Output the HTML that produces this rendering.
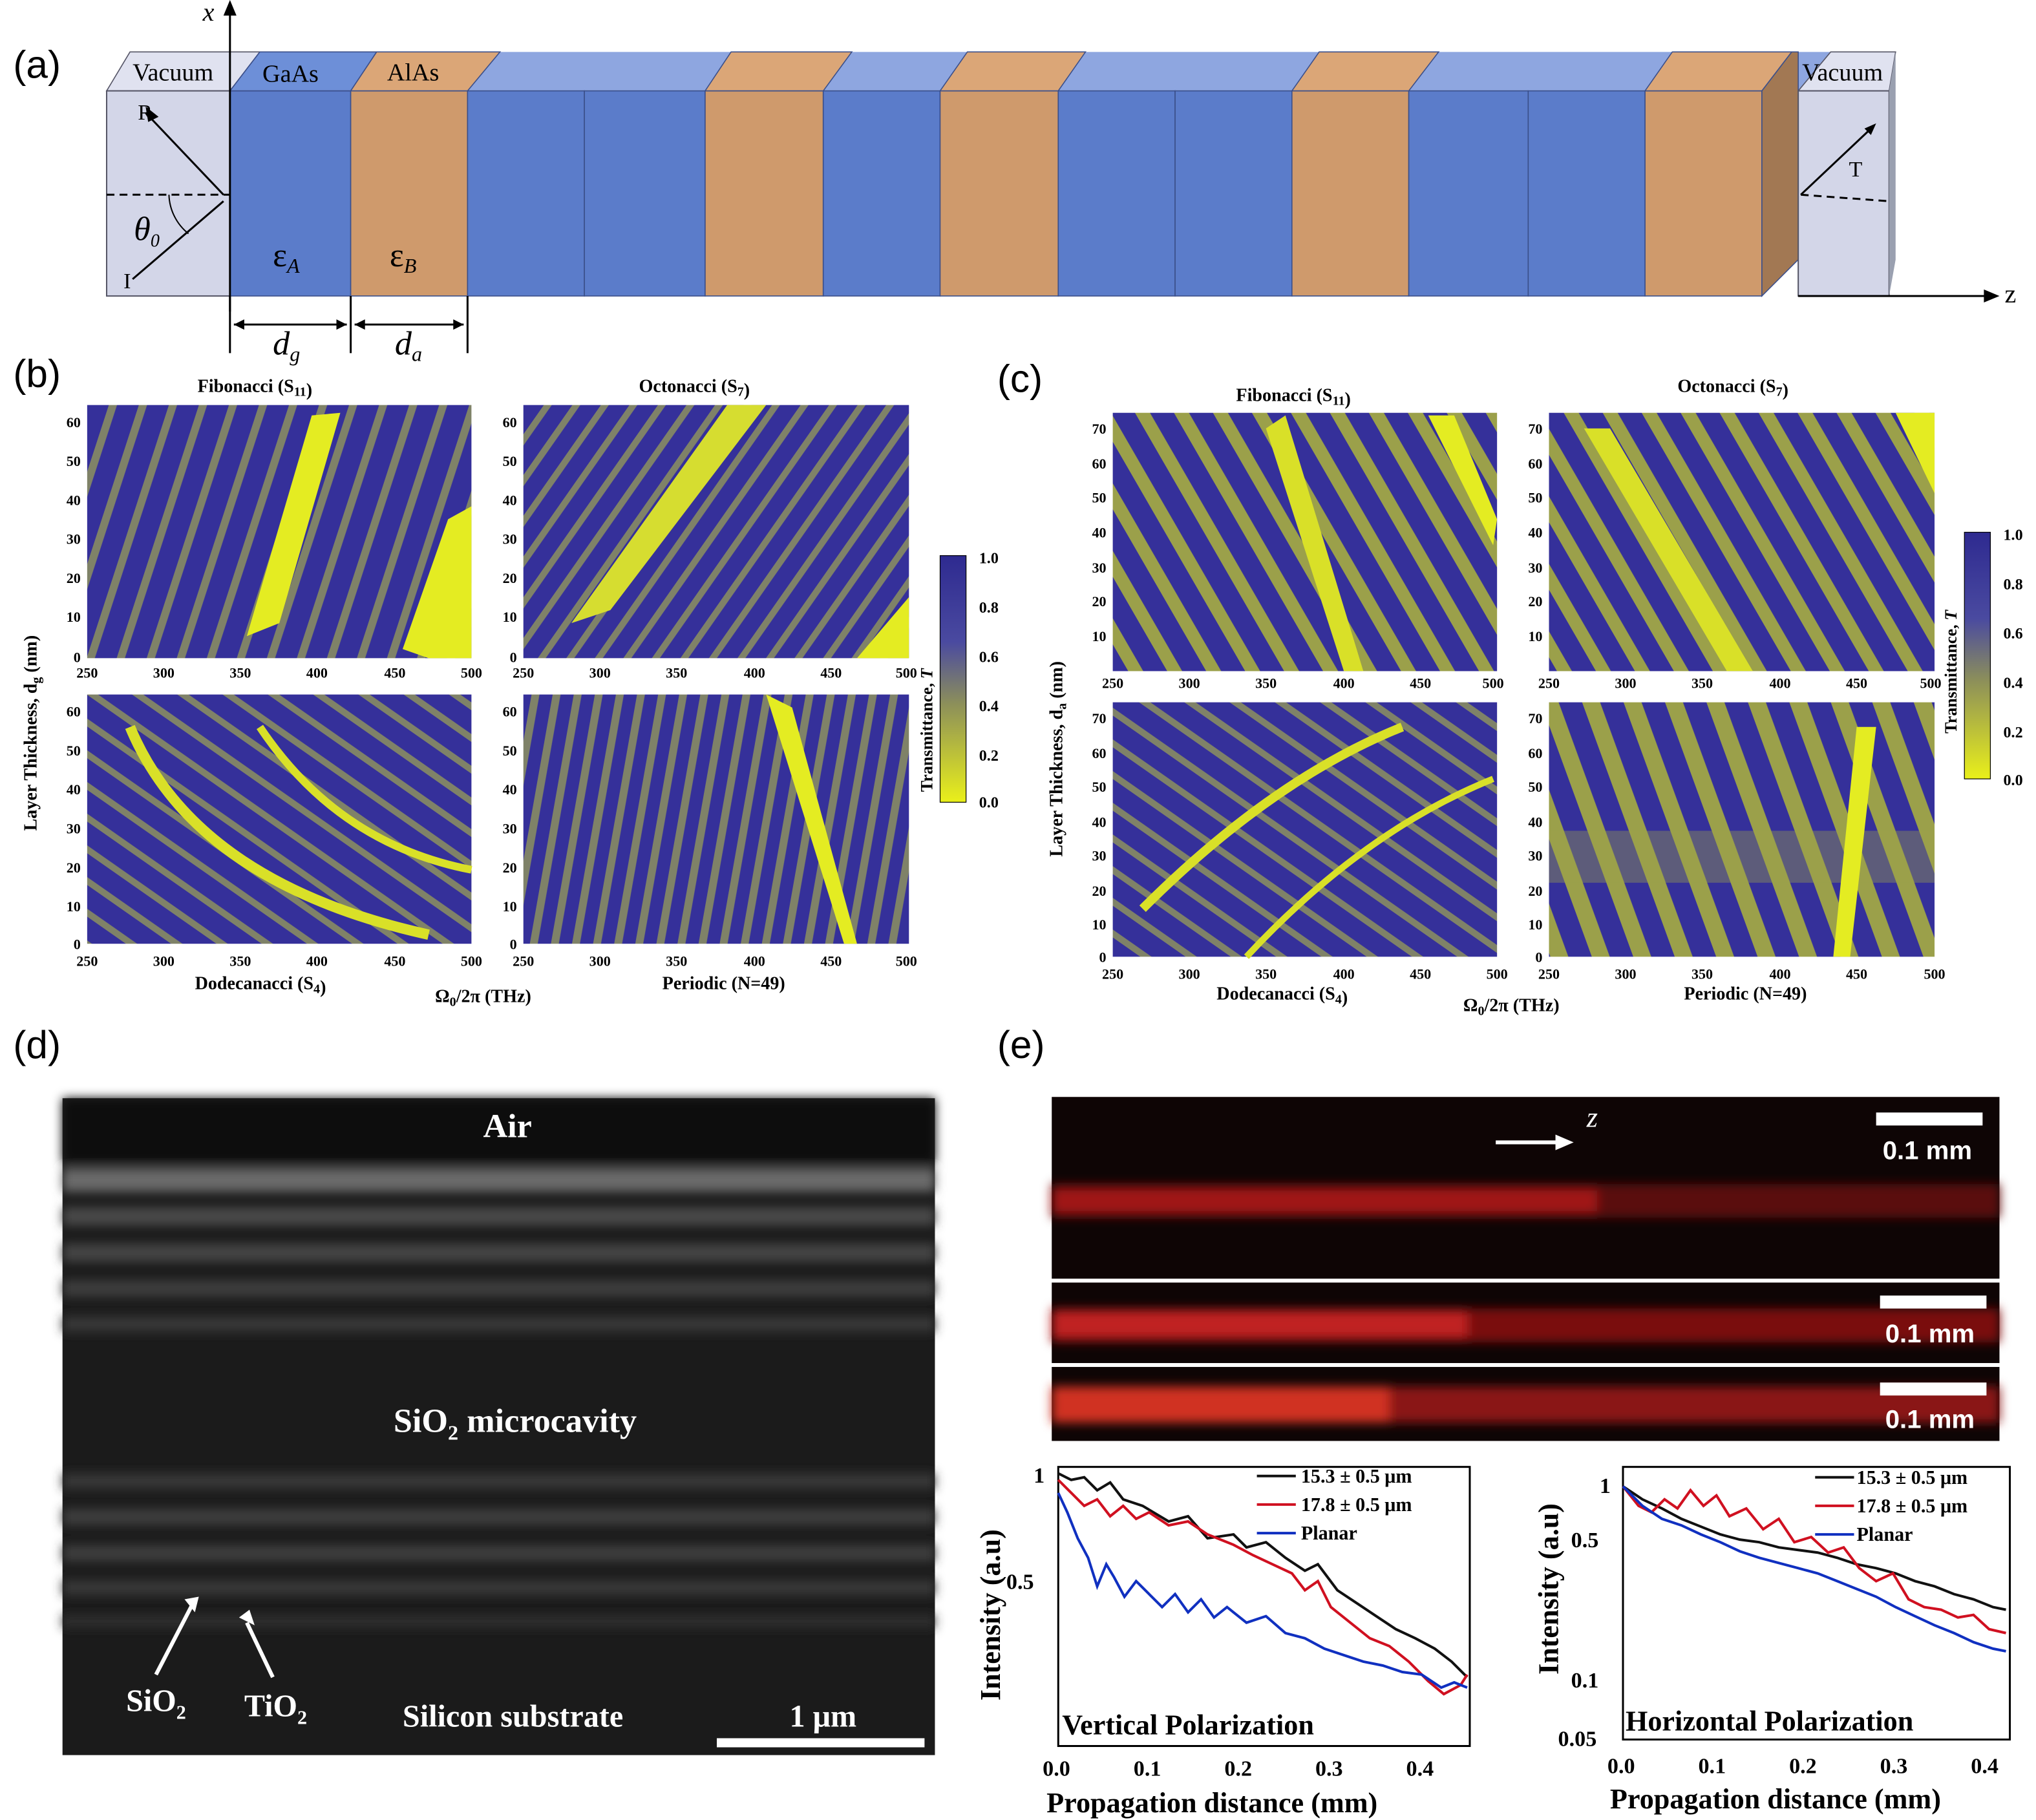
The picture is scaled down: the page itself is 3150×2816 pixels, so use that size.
<!DOCTYPE html>
<html><head><meta charset="utf-8"><style>
html,body{margin:0;padding:0;background:#fff}
svg{display:block}
text{font-family:"Liberation Serif",serif}
.s{font-family:"Liberation Sans",sans-serif}
</style></head><body>
<svg width="3150" height="2816" viewBox="0 0 1568 1402" xmlns="http://www.w3.org/2000/svg">
<defs>
<pattern id="p1" width="22" height="22" patternUnits="userSpaceOnUse" patternTransform="rotate(18)"><rect width="22" height="22" fill="#35309a"/><rect x="0" width="6" height="22" fill="#7f8268"/></pattern>
<pattern id="p2" width="18" height="18" patternUnits="userSpaceOnUse" patternTransform="rotate(35)"><rect width="18" height="18" fill="#35309a"/><rect x="0" width="5" height="18" fill="#7f8268"/></pattern>
<pattern id="p3" width="20" height="20" patternUnits="userSpaceOnUse" patternTransform="rotate(-55)"><rect width="20" height="20" fill="#35309a"/><rect x="0" width="5" height="20" fill="#7f8268"/></pattern>
<pattern id="p4" width="16" height="16" patternUnits="userSpaceOnUse" patternTransform="rotate(10)"><rect width="16" height="16" fill="#35309a"/><rect x="0" width="6" height="16" fill="#7f8268"/></pattern>
<pattern id="p5" width="26" height="26" patternUnits="userSpaceOnUse" patternTransform="rotate(-30)"><rect width="26" height="26" fill="#35309a"/><rect x="0" width="10" height="26" fill="#9ba04a"/></pattern>
<pattern id="p6" width="30" height="30" patternUnits="userSpaceOnUse" patternTransform="rotate(-20)"><rect width="30" height="30" fill="#35309a"/><rect x="0" width="13" height="30" fill="#9ba04a"/></pattern>
<linearGradient id="cb" x1="0" y1="1" x2="0" y2="0"><stop offset="0" stop-color="#eaf01a"/><stop offset="0.4" stop-color="#8c8f5a"/><stop offset="0.65" stop-color="#4a4aa0"/><stop offset="1" stop-color="#2e2a90"/></linearGradient>
<filter id="bl" x="-5%" y="-50%" width="110%" height="200%"><feGaussianBlur stdDeviation="4"/></filter>
<filter id="bl2" x="-5%" y="-50%" width="110%" height="200%"><feGaussianBlur stdDeviation="2"/></filter>
</defs>

<!-- (a) -->
<text x="10" y="60" font-size="30" class="s">(a)</text>
<polygon points="82,70 100,40 1460,40 1455,70" fill="#8ea6e0"/>
<polygon points="82,70 100,40 200,40 177,70" fill="#e0e2f0" stroke="#556" stroke-width="0.8"/>
<polygon points="1385,70 1410,40 1460,40 1455,70" fill="#e0e2f0" stroke="#556" stroke-width="0.8"/>
<rect x="82" y="70" width="95" height="158" fill="#d3d6e8" stroke="#556" stroke-width="1"/>
<g stroke="#3b4f8a" stroke-width="0.8">
<rect x="177" y="70" width="93" height="158" fill="#5b7cca"/>
<rect x="270" y="70" width="90" height="158" fill="#cf9a6c"/>
<rect x="360" y="70" width="90" height="158" fill="#5b7cca"/>
<rect x="450" y="70" width="93" height="158" fill="#5b7cca"/>
<rect x="543" y="70" width="91" height="158" fill="#cf9a6c"/>
<rect x="634" y="70" width="90" height="158" fill="#5b7cca"/>
<rect x="724" y="70" width="91" height="158" fill="#cf9a6c"/>
<rect x="815" y="70" width="90" height="158" fill="#5b7cca"/>
<rect x="905" y="70" width="90" height="158" fill="#5b7cca"/>
<rect x="995" y="70" width="90" height="158" fill="#cf9a6c"/>
<rect x="1085" y="70" width="92" height="158" fill="#5b7cca"/>
<rect x="1177" y="70" width="90" height="158" fill="#5b7cca"/>
<rect x="1267" y="70" width="90" height="158" fill="#cf9a6c"/>
<polygon points="200,40 290,40 270,70 177,70" fill="#6d8fd8"/>
<polygon points="290,40 385,40 360,70 270,70" fill="#dba677"/>
<polygon points="563,40 656,40 634,70 543,70" fill="#dba677"/>
<polygon points="745,40 836,40 815,70 724,70" fill="#dba677"/>
<polygon points="1016,40 1108,40 1085,70 995,70" fill="#dba677"/>
<polygon points="1288,40 1380,40 1357,70 1267,70" fill="#dba677"/>
<polygon points="1357,70 1380,40 1385,40 1385,200 1357,228" fill="#a27853"/>
</g>
<rect x="1385" y="70" width="70" height="158" fill="#d3d6e8" stroke="#556"/>
<polygon points="1455,70 1460,40 1460,200 1455,228" fill="#9aa0b0"/>
<text x="102" y="62" font-size="19">Vacuum</text>
<text x="202" y="63" font-size="19">GaAs</text>
<text x="298" y="62" font-size="19">AlAs</text>
<text x="1388" y="62" font-size="19">Vacuum</text>
<line x1="177" y1="240" x2="177" y2="8" stroke="#000" stroke-width="1.5"/>
<polygon points="172,12 177,0 182,12"/>
<text x="156" y="16" font-size="20" font-style="italic">x</text>
<line x1="1385" y1="228" x2="1530" y2="228" stroke="#000" stroke-width="1.5"/>
<polygon points="1528,223 1540,228 1528,233"/>
<text x="1544" y="233" font-size="20">z</text>
<line x1="82" y1="150" x2="177" y2="150" stroke="#000" stroke-dasharray="6,4" stroke-width="1.5"/>
<line x1="102" y1="215" x2="172" y2="155" stroke="#000" stroke-width="1.5"/>
<line x1="172" y1="150" x2="115" y2="90" stroke="#000" stroke-width="1.5"/>
<polygon points="112,82 122,90 114,94"/>
<text x="106" y="92" font-size="17">R</text>
<text x="95" y="222" font-size="17">I</text>
<text x="103" y="185" font-size="26" font-style="italic">θ<tspan font-size="14" dy="5">0</tspan></text>
<path d="M130,150 A40,40 0 0 0 145,180" fill="none" stroke="#000"/>
<text x="210" y="205" font-size="26">ε<tspan font-size="16" dy="5" font-style="italic">A</tspan></text>
<text x="300" y="205" font-size="26">ε<tspan font-size="16" dy="5" font-style="italic">B</tspan></text>
<line x1="1387" y1="150" x2="1440" y2="100" stroke="#000" stroke-width="1.5"/>
<polygon points="1445,95 1436,99 1441,104"/>
<line x1="1387" y1="150" x2="1455" y2="155" stroke="#000" stroke-dasharray="6,4" stroke-width="1.5"/>
<text x="1424" y="136" font-size="17">T</text>
<g stroke="#000" stroke-width="1.5">
<line x1="177" y1="228" x2="177" y2="272"/><line x1="270" y1="228" x2="270" y2="272"/><line x1="360" y1="228" x2="360" y2="272"/>
<line x1="180" y1="250" x2="267" y2="250"/><line x1="273" y1="250" x2="357" y2="250"/>
</g>
<polygon points="180,250 188,246 188,254"/><polygon points="267,250 259,246 259,254"/>
<polygon points="273,250 281,246 281,254"/><polygon points="357,250 349,246 349,254"/>
<text x="210" y="273" font-size="26" font-style="italic">d<tspan font-size="16" dy="5">g</tspan></text>
<text x="304" y="273" font-size="26" font-style="italic">d<tspan font-size="16" dy="5">a</tspan></text>

<!-- (b) -->
<text x="10" y="298" font-size="30" class="s">(b)</text>
<text x="152" y="302" font-size="14" font-weight="bold">Fibonacci (S<tspan font-size="10" dy="3">11</tspan>)</text>
<text x="492" y="302" font-size="14" font-weight="bold">Octonacci (S<tspan font-size="10" dy="3">7</tspan>)</text>
<rect x="67" y="312" width="296" height="195" fill="url(#p1)"/>
<polygon points="190,490 240,320 262,318 215,480" fill="#e4ec22"/>
<polygon points="310,500 345,400 363,390 363,507 330,507" fill="#e4ec22"/>
<rect x="403" y="312" width="297" height="195" fill="url(#p2)"/>
<polygon points="440,480 560,312 590,312 470,470" fill="#d6dd30"/>
<polygon points="660,507 700,460 700,507" fill="#e4ec22"/>
<rect x="67" y="535" width="296" height="192" fill="url(#p3)"/>
<path d="M100,560 Q150,680 330,720" stroke="#d9e028" stroke-width="8" fill="none"/>
<path d="M200,560 Q260,650 363,670" stroke="#d9e028" stroke-width="6" fill="none"/>
<rect x="403" y="535" width="297" height="192" fill="url(#p4)"/>
<polygon points="590,535 610,545 660,727 650,727" fill="#e4ec22"/>
<g font-size="11" font-weight="bold" text-anchor="middle">
<text x="67" y="522">250</text><text x="126" y="522">300</text><text x="185" y="522">350</text><text x="244" y="522">400</text><text x="304" y="522">450</text><text x="363" y="522">500</text>
<text x="403" y="522">250</text><text x="462" y="522">300</text><text x="521" y="522">350</text><text x="581" y="522">400</text><text x="640" y="522">450</text><text x="698" y="522">500</text>
<text x="67" y="744">250</text><text x="126" y="744">300</text><text x="185" y="744">350</text><text x="244" y="744">400</text><text x="304" y="744">450</text><text x="363" y="744">500</text>
<text x="403" y="744">250</text><text x="462" y="744">300</text><text x="521" y="744">350</text><text x="581" y="744">400</text><text x="640" y="744">450</text><text x="698" y="744">500</text>
</g>
<g font-size="11" font-weight="bold" text-anchor="end">
<text x="62" y="329">60</text><text x="62" y="359">50</text><text x="62" y="389">40</text><text x="62" y="419">30</text><text x="62" y="449">20</text><text x="62" y="479">10</text><text x="62" y="510">0</text>
<text x="398" y="329">60</text><text x="398" y="359">50</text><text x="398" y="389">40</text><text x="398" y="419">30</text><text x="398" y="449">20</text><text x="398" y="479">10</text><text x="398" y="510">0</text>
<text x="62" y="552">60</text><text x="62" y="582">50</text><text x="62" y="612">40</text><text x="62" y="642">30</text><text x="62" y="672">20</text><text x="62" y="702">10</text><text x="62" y="731">0</text>
<text x="398" y="552">60</text><text x="398" y="582">50</text><text x="398" y="612">40</text><text x="398" y="642">30</text><text x="398" y="672">20</text><text x="398" y="702">10</text><text x="398" y="731">0</text>
</g>
<text x="150" y="762" font-size="14" font-weight="bold">Dodecanacci (S<tspan font-size="10" dy="3">4</tspan>)</text>
<text x="335" y="772" font-size="14" font-weight="bold">Ω<tspan font-size="10" dy="3">0</tspan><tspan dy="-3">/2π (THz)</tspan></text>
<text x="510" y="762" font-size="14" font-weight="bold">Periodic (N=49)</text>
<text transform="translate(28,640) rotate(-90)" font-size="14" font-weight="bold">Layer Thickness, d<tspan font-size="10" dy="3">g</tspan><tspan dy="-3"> (nm)</tspan></text>
<rect x="724" y="428" width="20" height="190" fill="url(#cb)" stroke="#000" stroke-width="0.6"/>
<text transform="translate(718,610) rotate(-90)" font-size="13" font-weight="bold">Transmittance, <tspan font-style="italic">T</tspan></text>
<g font-size="12" font-weight="bold"><text x="754" y="434">1.0</text><text x="754" y="472">0.8</text><text x="754" y="510">0.6</text><text x="754" y="548">0.4</text><text x="754" y="586">0.2</text><text x="754" y="622">0.0</text></g>

<!-- (c) -->
<text x="768" y="302" font-size="30" class="s">(c)</text>
<text x="952" y="309" font-size="14" font-weight="bold">Fibonacci (S<tspan font-size="10" dy="3">11</tspan>)</text>
<text x="1292" y="302" font-size="14" font-weight="bold">Octonacci (S<tspan font-size="10" dy="3">7</tspan>)</text>
<rect x="857" y="318" width="296" height="199" fill="url(#p5)"/>
<polygon points="975,330 990,320 1050,517 1035,517" fill="#d9e028"/>
<polygon points="1100,320 1120,320 1153,400 1150,420" fill="#e4ec22"/>
<rect x="1193" y="318" width="297" height="199" fill="url(#p5)"/>
<polygon points="1220,330 1240,330 1350,517 1330,517" fill="#d9e028"/>
<polygon points="1460,318 1490,318 1490,380" fill="#e4ec22"/>
<rect x="857" y="541" width="296" height="196" fill="url(#p3)"/>
<path d="M880,700 Q980,600 1080,560" stroke="#d9e028" stroke-width="7" fill="none"/>
<path d="M960,737 Q1050,640 1150,600" stroke="#d9e028" stroke-width="5" fill="none"/>
<rect x="1193" y="541" width="297" height="196" fill="url(#p6)"/>
<rect x="1193" y="640" width="297" height="40" fill="#9ba04a" opacity="0.4"/>
<polygon points="1430,560 1445,560 1425,737 1412,737" fill="#e4ec22"/>
<g font-size="11" font-weight="bold" text-anchor="middle">
<text x="857" y="530">250</text><text x="916" y="530">300</text><text x="975" y="530">350</text><text x="1035" y="530">400</text><text x="1094" y="530">450</text><text x="1150" y="530">500</text>
<text x="1193" y="530">250</text><text x="1252" y="530">300</text><text x="1311" y="530">350</text><text x="1371" y="530">400</text><text x="1430" y="530">450</text><text x="1487" y="530">500</text>
<text x="857" y="754">250</text><text x="916" y="754">300</text><text x="975" y="754">350</text><text x="1035" y="754">400</text><text x="1094" y="754">450</text><text x="1153" y="754">500</text>
<text x="1193" y="754">250</text><text x="1252" y="754">300</text><text x="1311" y="754">350</text><text x="1371" y="754">400</text><text x="1430" y="754">450</text><text x="1490" y="754">500</text>
</g>
<g font-size="11" font-weight="bold" text-anchor="end">
<text x="852" y="334">70</text><text x="852" y="361">60</text><text x="852" y="387">50</text><text x="852" y="414">40</text><text x="852" y="441">30</text><text x="852" y="467">20</text><text x="852" y="494">10</text>
<text x="1188" y="334">70</text><text x="1188" y="361">60</text><text x="1188" y="387">50</text><text x="1188" y="414">40</text><text x="1188" y="441">30</text><text x="1188" y="467">20</text><text x="1188" y="494">10</text>
<text x="852" y="557">70</text><text x="852" y="584">60</text><text x="852" y="610">50</text><text x="852" y="637">40</text><text x="852" y="663">30</text><text x="852" y="690">20</text><text x="852" y="716">10</text><text x="852" y="741">0</text>
<text x="1188" y="557">70</text><text x="1188" y="584">60</text><text x="1188" y="610">50</text><text x="1188" y="637">40</text><text x="1188" y="663">30</text><text x="1188" y="690">20</text><text x="1188" y="716">10</text><text x="1188" y="741">0</text>
</g>
<text x="937" y="770" font-size="14" font-weight="bold">Dodecanacci (S<tspan font-size="10" dy="3">4</tspan>)</text>
<text x="1127" y="779" font-size="14" font-weight="bold">Ω<tspan font-size="10" dy="3">0</tspan><tspan dy="-3">/2π (THz)</tspan></text>
<text x="1297" y="770" font-size="14" font-weight="bold">Periodic (N=49)</text>
<text transform="translate(818,660) rotate(-90)" font-size="14" font-weight="bold">Layer Thickness, d<tspan font-size="10" dy="3">a</tspan><tspan dy="-3"> (nm)</tspan></text>
<rect x="1513" y="410" width="20" height="190" fill="url(#cb)" stroke="#000" stroke-width="0.6"/>
<text transform="translate(1507,565) rotate(-90)" font-size="13" font-weight="bold">Transmittance, <tspan font-style="italic">T</tspan></text>
<g font-size="12" font-weight="bold"><text x="1543" y="416">1.0</text><text x="1543" y="454">0.8</text><text x="1543" y="492">0.6</text><text x="1543" y="530">0.4</text><text x="1543" y="568">0.2</text><text x="1543" y="605">0.0</text></g>

<!-- (d) -->
<text x="10" y="815" font-size="30" class="s">(d)</text>
<rect x="48" y="846" width="672" height="506" fill="#1b1b1b"/>
<g filter="url(#bl)">
<rect x="48" y="846" width="672" height="50" fill="#0c0c0c"/>
<rect x="48" y="900" width="672" height="18" fill="#6a6a6a"/>
<rect x="48" y="930" width="672" height="14" fill="#4a4a4a"/>
<rect x="48" y="958" width="672" height="14" fill="#444"/>
<rect x="48" y="986" width="672" height="13" fill="#3e3e3e"/>
<rect x="48" y="1014" width="672" height="12" fill="#383838"/>
<rect x="48" y="1135" width="672" height="12" fill="#383838"/>
<rect x="48" y="1162" width="672" height="13" fill="#3c3c3c"/>
<rect x="48" y="1190" width="672" height="13" fill="#3c3c3c"/>
<rect x="48" y="1217" width="672" height="12" fill="#383838"/>
<rect x="48" y="1244" width="672" height="10" fill="#2e2e2e"/>
</g>
<g fill="#fff" font-weight="bold">
<text x="372" y="876" font-size="26">Air</text>
<text x="303" y="1103" font-size="26">SiO<tspan font-size="16" dy="6">2</tspan><tspan dy="-6"> microcavity</tspan></text>
<text x="97" y="1318" font-size="24">SiO<tspan font-size="15" dy="6">2</tspan></text>
<text x="188" y="1322" font-size="24">TiO<tspan font-size="15" dy="6">2</tspan></text>
<text x="310" y="1330" font-size="24">Silicon substrate</text>
<text x="608" y="1330" font-size="24">1 μm</text>
</g>
<rect x="552" y="1339" width="160" height="7" fill="#fff"/>
<g stroke="#fff" stroke-width="3"><line x1="120" y1="1290" x2="148" y2="1236"/><line x1="210" y1="1292" x2="190" y2="1250"/></g>
<polygon points="142,1232 153,1230 150,1242" fill="#fff"/>
<polygon points="184,1246 192,1240 196,1252" fill="#fff"/>

<!-- (e) -->
<text x="768" y="815" font-size="30" class="s">(e)</text>
<rect x="810" y="845" width="730" height="140" fill="#0e0505"/>
<rect x="810" y="988" width="730" height="62" fill="#0e0505"/>
<rect x="810" y="1053" width="730" height="57" fill="#0e0505"/>
<g filter="url(#bl)">
<rect x="810" y="912" width="730" height="26" fill="#5a0c0c"/>
<rect x="810" y="916" width="420" height="18" fill="#a01818"/>
<rect x="810" y="1008" width="730" height="26" fill="#7a1010"/>
<rect x="810" y="1010" width="320" height="20" fill="#c02020"/>
<rect x="810" y="1068" width="730" height="28" fill="#8a1212"/>
<rect x="810" y="1068" width="260" height="28" fill="#d03020"/>
</g>
<g fill="#fff"><rect x="1445" y="857" width="82" height="10"/><rect x="1448" y="998" width="82" height="10"/><rect x="1448" y="1065" width="82" height="10"/></g>
<g fill="#fff" font-size="20" font-weight="bold">
<text x="1450" y="893" class="s">0.1 mm</text><text x="1452" y="1034" class="s">0.1 mm</text><text x="1452" y="1100" class="s">0.1 mm</text></g>
<line x1="1152" y1="880" x2="1200" y2="880" stroke="#fff" stroke-width="3"/>
<polygon points="1198,874 1212,880 1198,886" fill="#fff"/>
<text x="1222" y="868" fill="#fff" font-size="22" font-style="italic">z</text>

<!-- e left plot -->
<rect x="815" y="1130" width="317" height="215" fill="none" stroke="#000" stroke-width="1.5"/>
<polyline fill="none" stroke="#111" stroke-width="2" points="815,1135 825,1140 835,1138 845,1148 855,1142 865,1155 880,1160 900,1172 915,1168 930,1185 950,1182 960,1192 975,1188 990,1200 1005,1210 1015,1205 1030,1225 1045,1235 1060,1245 1075,1255 1090,1262 1105,1270 1118,1280 1130,1292"/>
<polyline fill="none" stroke="#d01020" stroke-width="2" points="815,1140 825,1150 835,1160 845,1155 855,1168 865,1160 875,1170 885,1165 900,1175 915,1172 930,1182 950,1190 965,1198 980,1205 995,1212 1005,1225 1015,1218 1025,1238 1040,1250 1055,1262 1070,1268 1085,1280 1100,1295 1112,1305 1125,1298 1130,1290"/>
<polyline fill="none" stroke="#1030c0" stroke-width="2" points="815,1150 822,1165 830,1185 838,1200 845,1222 852,1205 858,1215 866,1230 875,1218 885,1228 895,1238 905,1228 915,1242 925,1232 935,1246 945,1238 960,1250 975,1245 990,1258 1005,1262 1020,1270 1035,1275 1050,1280 1065,1283 1080,1288 1095,1290 1110,1300 1120,1296 1130,1300"/>
<g font-size="17" font-weight="bold">
<text x="796" y="1142">1</text><text x="775" y="1224">0.5</text>
<text x="803" y="1368">0.0</text><text x="873" y="1368">0.1</text><text x="943" y="1368">0.2</text><text x="1013" y="1368">0.3</text><text x="1083" y="1368">0.4</text>
<text x="818" y="1336" font-size="22">Vertical Polarization</text>
<text x="806" y="1396" font-size="22">Propagation distance (mm)</text>
<text transform="translate(770,1310) rotate(-90)" font-size="22">Intensity (a.u)</text>
</g>
<g font-size="15" font-weight="bold">
<line x1="968" y1="1137" x2="998" y2="1137" stroke="#111" stroke-width="2"/><text x="1002" y="1142">15.3 ± 0.5 μm</text>
<line x1="968" y1="1159" x2="998" y2="1159" stroke="#d01020" stroke-width="2"/><text x="1002" y="1164">17.8 ± 0.5 μm</text>
<line x1="968" y1="1181" x2="998" y2="1181" stroke="#1030c0" stroke-width="2"/><text x="1002" y="1186">Planar</text>
</g>

<!-- e right plot -->
<rect x="1250" y="1130" width="298" height="210" fill="none" stroke="#000" stroke-width="1.5"/>
<polyline fill="none" stroke="#111" stroke-width="2" points="1250,1145 1265,1155 1280,1162 1295,1170 1310,1176 1325,1182 1340,1186 1355,1188 1370,1192 1385,1194 1400,1196 1415,1200 1430,1205 1445,1208 1460,1212 1475,1218 1490,1222 1505,1228 1520,1232 1535,1238 1545,1240"/>
<polyline fill="none" stroke="#d01020" stroke-width="2" points="1250,1145 1262,1160 1272,1165 1282,1155 1292,1162 1302,1148 1312,1160 1322,1152 1332,1168 1345,1162 1358,1178 1370,1170 1382,1188 1395,1184 1408,1196 1420,1192 1432,1208 1445,1218 1458,1212 1470,1232 1482,1238 1495,1240 1508,1246 1520,1244 1532,1255 1545,1258"/>
<polyline fill="none" stroke="#1030c0" stroke-width="2" points="1250,1145 1265,1160 1280,1170 1295,1175 1310,1182 1325,1188 1340,1195 1355,1200 1370,1204 1385,1208 1400,1212 1415,1218 1430,1224 1445,1230 1460,1238 1475,1245 1490,1252 1505,1258 1520,1265 1535,1270 1545,1272"/>
<g font-size="17" font-weight="bold">
<text x="1232" y="1150">1</text><text x="1210" y="1192">0.5</text><text x="1210" y="1300">0.1</text><text x="1200" y="1345">0.05</text>
<text x="1238" y="1366">0.0</text><text x="1308" y="1366">0.1</text><text x="1378" y="1366">0.2</text><text x="1448" y="1366">0.3</text><text x="1518" y="1366">0.4</text>
<text x="1252" y="1333" font-size="22">Horizontal Polarization</text>
<text x="1240" y="1393" font-size="22">Propagation distance (mm)</text>
<text transform="translate(1200,1290) rotate(-90)" font-size="22">Intensity (a.u)</text>
</g>
<g font-size="15" font-weight="bold">
<line x1="1398" y1="1138" x2="1428" y2="1138" stroke="#111" stroke-width="2"/><text x="1430" y="1143">15.3 ± 0.5 μm</text>
<line x1="1398" y1="1160" x2="1428" y2="1160" stroke="#d01020" stroke-width="2"/><text x="1430" y="1165">17.8 ± 0.5 μm</text>
<line x1="1398" y1="1182" x2="1428" y2="1182" stroke="#1030c0" stroke-width="2"/><text x="1430" y="1187">Planar</text>
</g>
</svg>
</body></html>
